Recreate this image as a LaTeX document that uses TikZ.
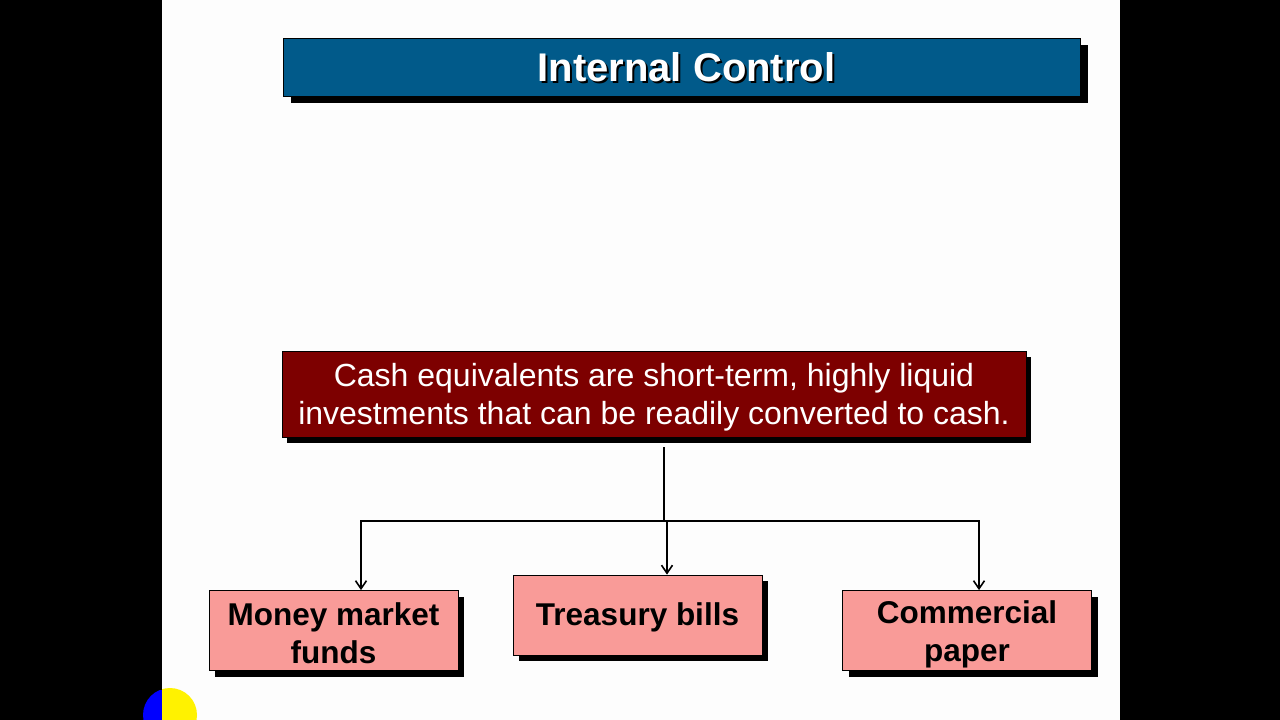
\documentclass[tikz,border=0pt]{standalone}
\usepackage{fontspec}
\setmainfont{Liberation Sans}
\usetikzlibrary{arrows.meta,shadows}
\definecolor{titleblue}{HTML}{015A8A}
\definecolor{darkred}{HTML}{7D0000}
\definecolor{pinkbox}{HTML}{F99B98}
\definecolor{slidebg}{HTML}{FDFDFD}
\tikzset{
  titlebox/.style={draw=black, line width=0.8pt, fill=titleblue, minimum width=797pt, minimum height=58pt, inner sep=0pt,
    drop shadow={shadow xshift=8pt, shadow yshift=-7pt, fill=black, opacity=1}},
  defbox/.style={draw=black, line width=0.8pt, fill=darkred, minimum width=744pt, minimum height=86pt, inner sep=0pt,
    drop shadow={shadow xshift=5pt, shadow yshift=-6pt, fill=black, opacity=1}},
  deftext/.style={text=white, align=center, inner sep=0pt, font=\fontsize{32}{38}\selectfont},
  itembox/.style={draw=black, line width=0.8pt, fill=pinkbox, minimum width=249pt, minimum height=80pt, inner sep=0pt,
    drop shadow={shadow xshift=6pt, shadow yshift=-6pt, fill=black, opacity=1}},
  itemtext/.style={align=center, inner sep=0pt, font=\fontsize{31.5}{38}\selectfont\bfseries},
  conn/.style={line width=2pt, black},
  arr/.style={conn, -{Straight Barb[length=8pt,width=11pt,line width=1.6pt]}},
}
\begin{document}
\begin{tikzpicture}[x=1pt,y=-1pt]
\useasboundingbox (0,0) rectangle (1280,720);
\fill[black] (0,0) rectangle (1280,720);
\fill[slidebg] (162,0) rectangle (1120,720);
% corner logo
\begin{scope}
\clip (143,690) rectangle (162,720);
\fill[blue] (170,715) circle (27);
\end{scope}
\begin{scope}
\clip (162,680) rectangle (200,720);
\fill[yellow] (170,715) circle (27);
\end{scope}
% title
\node[titlebox] (title) at (681.5,67) {};
\node[text=black, font=\fontsize{40}{44}\selectfont\bfseries] (titleshadow) at (688.5,69) {Internal Control};
\node[text=white, font=\fontsize{40}{44}\selectfont\bfseries] (titletext) at (686.5,67) {Internal Control};
% definition
\node[defbox] (def) at (654,394) {};
\node[deftext] (deftxt) at (654,397) {Cash equivalents are short-term, highly liquid\\investments that can be readily converted to cash.};
% items
\node[itembox] (mmf) at (333.5,630.5) {};
\node[itemtext] (mmftxt) at (333.5,633.5) {Money market\\funds};
\node[itembox] (tb) at (637.5,615) {};
\node[itemtext] (tbtxt) at (637.5,617) {Treasury bills};
\node[itembox] (cp) at (967,630.5) {};
\node[itemtext] (cptxt) at (967,634) {Commercial\\paper};
% connectors
\coordinate (top) at (664,447);
\coordinate (hub) at (664,521);
\draw[conn] (top) -- (hub);
\draw[arr] (hub) -| ([xshift=27.5pt]mmf.north);
\draw[arr] ([xshift=29.5pt]tb.north |- hub) -- ([xshift=29.5pt]tb.north);
\draw[arr] (hub) -| ([xshift=12pt]cp.north);
\end{tikzpicture}
\end{document}
